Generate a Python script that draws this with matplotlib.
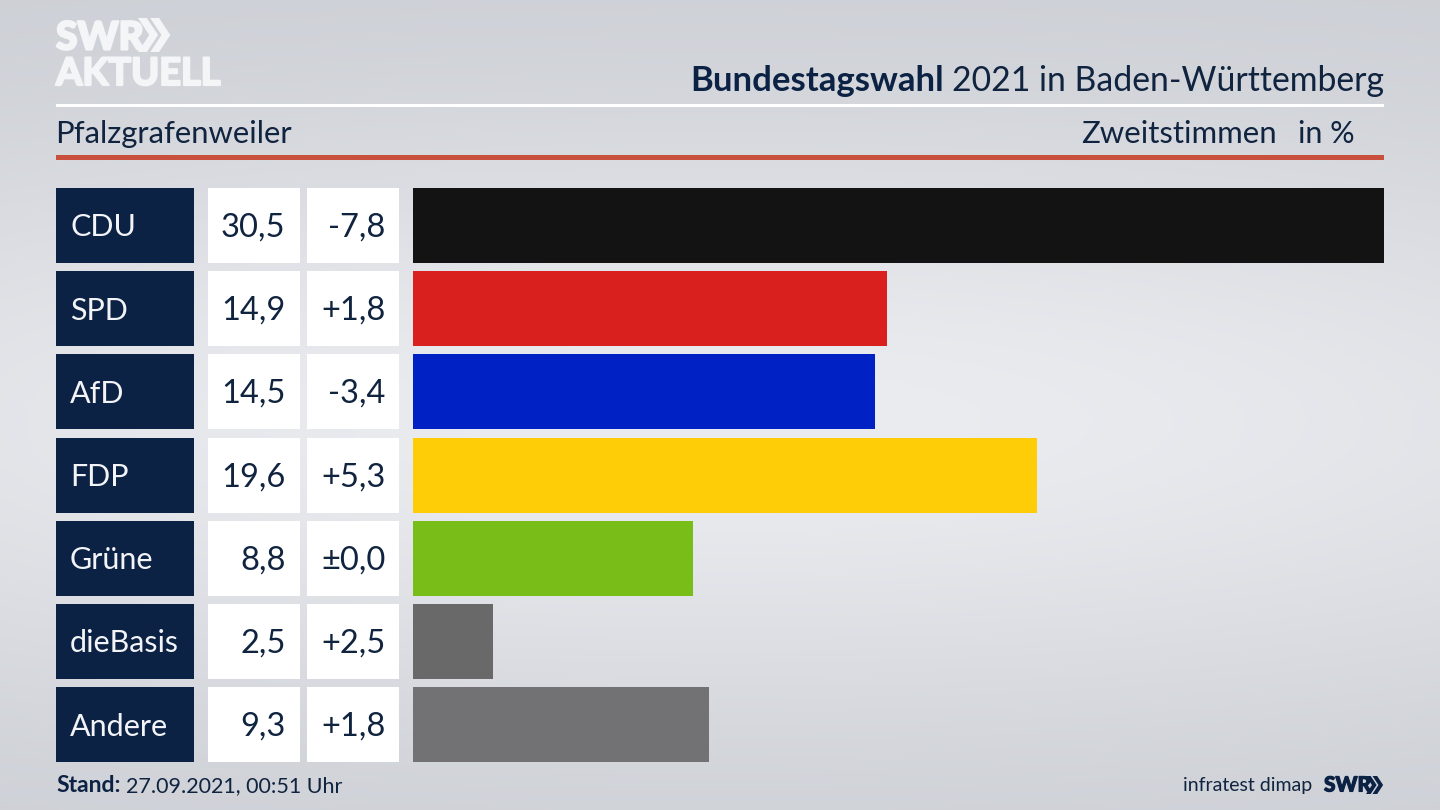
"""
Bundestagswahl 2021 result bars for Pfalzgrafenweiler, SWR Aktuell look.
"""

import matplotlib
matplotlib.use("Agg")
import matplotlib.pyplot as plt
import matplotlib.patheffects as pe
import numpy as np
from matplotlib.patches import Polygon, Rectangle

parties = ["CDU", "SPD", "AfD", "FDP", "Grüne", "dieBasis", "Andere"]
shares = [30.5, 14.9, 14.5, 19.6, 8.8, 2.5, 9.3]
share_labels = ["30,5", "14,9", "14,5", "19,6", "8,8", "2,5", "9,3"]
diff_labels = ["-7,8", "+1,8", "-3,4", "+5,3", "±0,0", "+2,5", "+1,8"]
bar_colors = ["#131313", "#d9201e", "#0021c4", "#ffcd08", "#79bd18", "#696969", "#727274"]

NAVY = "#0c2244"
INK = "#10233f"
LOGO = "#f4f5f7"
W, H = 1440, 810

plt.rcParams["font.family"] = ["Lato", "Noto Sans", "DejaVu Sans"]

fig = plt.figure(figsize=(W / 100, H / 100), dpi=100)

# full-figure axes in pixel coordinates for everything around the bars
bg = fig.add_axes([0, 0, 1, 1])
bg.set_xlim(0, W)
bg.set_ylim(H, 0)
bg.axis("off")

yy, xx = np.mgrid[0:1:200j, 0:1:356j]
glow = np.exp(-((yy - 0.52) / 0.36) ** 2) * (1 - 0.25 * ((xx - 0.5) / 0.5) ** 2)
top = np.array([0xcb, 0xce, 0xd4]) / 255
mid = np.array([0xeb, 0xec, 0xf0]) / 255
img = top + (mid - top) * glow[..., None]
bg.imshow(img, extent=(0, W, H, 0), aspect="auto", interpolation="bilinear", zorder=0)

# header
bg.add_patch(Rectangle((56, 104), 1328, 3, color="white", lw=0, zorder=2))
bg.add_patch(Rectangle((56, 155), 1328, 5, color="#c8503c", lw=0, zorder=2))
bg.text(944, 81, "Bundestagswahl", ha="right", va="center", fontsize=25,
        fontweight="bold", color=NAVY, zorder=3)
bg.text(1384, 81, "2021 in Baden-Württemberg", ha="right", va="center", fontsize=24.3,
        color=INK, zorder=3)
bg.text(55, 134, "Pfalzgrafenweiler", ha="left", va="center", fontsize=22.3, color=INK, zorder=3)
bg.text(1277, 134, "Zweitstimmen", ha="right", va="center", fontsize=22.4, color=INK, zorder=3)
bg.text(1355, 134, "in %", ha="right", va="center", fontsize=22, color=INK, zorder=3)


def chevrons(ax, x, y, h, color):
    # the two arrow heads of the SWR logo
    w = h * 0.50
    t = h * 0.26
    for dx in (0, w * 0.72):
        pts = [(x + dx, y), (x + dx + t, y), (x + dx + w + t * 0.35, y + h / 2),
               (x + dx + t, y + h), (x + dx, y + h), (x + dx + w - t * 0.65, y + h / 2)]
        ax.add_patch(Polygon(pts, closed=True, color=color, lw=0, zorder=3))


# logo, stroked a little because the installed fonts are lighter than the wordmark
heavy = [pe.withStroke(linewidth=1.6, foreground=LOGO)]
bg.text(56, 38, "SWR", ha="left", va="center", fontsize=28, fontweight="black",
        color=LOGO, zorder=3, path_effects=heavy)
chevrons(bg, 138, 18, 34, LOGO)
bg.text(56, 74, "AKTUELL", ha="left", va="center", fontsize=27.3, fontweight="bold",
        color=LOGO, zorder=3, path_effects=heavy)

# table cells left of the bars
row_top = 188
row_step = 83.2
row_h = 75
for i, party in enumerate(parties):
    y = row_top + i * row_step
    cy = y + row_h / 2
    bg.add_patch(Rectangle((56, y), 138, row_h, color=NAVY, lw=0, zorder=2))
    bg.add_patch(Rectangle((208, y), 92, row_h, color="white", lw=0, zorder=2))
    bg.add_patch(Rectangle((307, y), 92, row_h, color="white", lw=0, zorder=2))
    bg.text(70, cy + 2, party, ha="left", va="center", fontsize=22, color="#f2f4f7", zorder=3)
    bg.text(285.5, cy + 2, share_labels[i], ha="right", va="center", fontsize=23.5, color=INK, zorder=3)
    bg.text(385.5, cy + 2, diff_labels[i], ha="right", va="center", fontsize=23.5, color=INK, zorder=3)

# footer
bg.text(56, 786, "Stand:", ha="left", va="center", fontsize=16.5, fontweight="bold",
        color=NAVY, zorder=3)
bg.text(126, 786, "27.09.2021, 00:51 Uhr", ha="left", va="center", fontsize=15.5, color=INK, zorder=3)
bg.text(1312, 786, "infratest dimap", ha="right", va="center", fontsize=14, color=INK, zorder=3)
bg.text(1324, 785, "SWR", ha="left", va="center", fontsize=15, fontweight="black",
        color=NAVY, zorder=3, path_effects=[pe.withStroke(linewidth=0.8, foreground=NAVY)])
chevrons(bg, 1366, 776, 18, NAVY)

# bars, the axes spans the pixel range of the longest bar
bar_ax = fig.add_axes([413 / W, 1 - (row_top + 6 * row_step + row_h) / H,
                       (1384 - 413) / W, (6 * row_step + row_h) / H])
bar_ax.patch.set_alpha(0)
bar_ax.set_xlim(0, max(shares))
bar_ax.set_ylim(6 * row_step + row_h, 0)
bar_ax.axis("off")
centers = [row_h / 2 + i * row_step for i in range(len(parties))]
bar_ax.barh(centers, shares, height=row_h, color=bar_colors, linewidth=0)

fig.savefig("out.png", dpi=100)
